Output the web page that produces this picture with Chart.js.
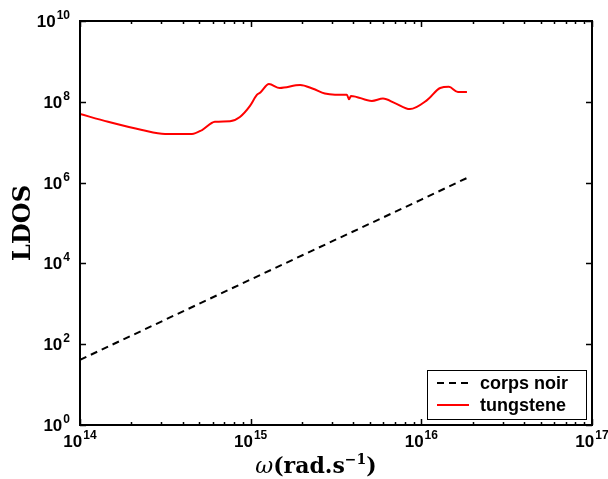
<!DOCTYPE html>
<html>
<head>
<meta charset="utf-8">
<script src="https://cdn.jsdelivr.net/npm/chart.js@4/dist/chart.umd.min.js"></script>
<style>
  html, body { margin: 0; padding: 0; background: #fff; overflow: hidden; }
  #box { width: 608px; height: 479px; }
</style>
</head>
<body>
<div id="box"><canvas id="grafico"></canvas></div>
<script>
// Données
const omegaTungstene = [1.0e14, 1.46e14, 2.31e14, 3.15e14, 4.53e14, 5.19e14, 6.17e14, 7.57e14, 8.65e14, 9.91e14,
    1.09e15, 1.14e15, 1.28e15, 1.48e15, 1.95e15, 2.32e15, 2.72e15, 3.12e15, 3.66e15, 3.77e15, 3.87e15,
    5.13e15, 5.96e15, 7.0e15, 8.57e15, 1.08e16, 1.29e16, 1.45e16, 1.64e16, 1.85e16];
const ldosTungstene = [5.0e7, 3.2e7, 2.0e7, 1.6e7, 1.6e7, 2.0e7, 3.2e7, 3.3e7, 4.2e7, 7.9e7,
    1.5e8, 1.7e8, 2.75e8, 2.2e8, 2.6e8, 2.1e8, 1.6e8, 1.5e8, 1.5e8, 1.15e8, 1.4e8,
    1.05e8, 1.2e8, 9.3e7, 6.6e7, 1.1e8, 2.2e8, 2.35e8, 1.75e8, 1.75e8];

const omegaCorpsNoir = [1.0e14, 1.0e15, 1.0e16, 1.85e16];
const ldosCorpsNoir = [41, 4.0e3, 3.8e5, 1.3e6];

// Exposants des étiquettes de graduation (10^n)
const xTickExp = [14, 15, 16, 17];
const yTickExp = [0, 2, 4, 6, 8, 10];

const policeTicks = '"Liberation Sans", Arial, sans-serif';
const policeTitre = '"DejaVu Serif", serif';

function points(xs, ys) {
    return xs.map((x, i) => ({ x: x, y: ys[i] }));
}

// écrit "10" avec l'exposant en haut ; renvoie la largeur
function largeurPuissance(ctx, exp) {
    ctx.font = 'bold 17px ' + policeTicks;
    const a = ctx.measureText('10').width;
    ctx.font = 'bold 12px ' + policeTicks;
    return a + 1 + ctx.measureText(String(exp)).width;
}
function ecrirePuissance(ctx, exp, x, base) {
    ctx.textAlign = 'left';
    ctx.textBaseline = 'alphabetic';
    ctx.font = 'bold 17px ' + policeTicks;
    ctx.fillText('10', x, base);
    const a = ctx.measureText('10').width;
    ctx.font = 'bold 12px ' + policeTicks;
    ctx.fillText(String(exp), x + a + 1, base - 8);
}

// Cadre, graduations vers l'intérieur et étiquettes (style MATLAB)
const cadre = {
    id: 'cadre',
    afterDatasetsDraw(chart) {
        const { ctx, chartArea: a, scales } = chart;
        ctx.save();
        ctx.strokeStyle = '#000';
        ctx.lineWidth = 1.5;
        ctx.beginPath();
        // x : graduations majeures et mineures
        for (let e = xTickExp[0]; e <= xTickExp[xTickExp.length - 1]; e++) {
            for (let m = 1; m <= 9; m++) {
                const v = m * Math.pow(10, e);
                if (v > scales.x.max * 1.0001) break;
                const px = Math.round(scales.x.getPixelForValue(v)) + 0.5;
                const len = m === 1 ? 6 : 3;
                ctx.moveTo(px, a.bottom); ctx.lineTo(px, a.bottom - len);
                ctx.moveTo(px, a.top); ctx.lineTo(px, a.top + len);
            }
        }
        // y : graduations majeures
        scales.y.ticks.forEach(t => {
            const py = Math.round(scales.y.getPixelForValue(t.value)) + 0.5;
            ctx.moveTo(a.left, py); ctx.lineTo(a.left + 6, py);
            ctx.moveTo(a.right, py); ctx.lineTo(a.right - 6, py);
        });
        ctx.stroke();
        ctx.lineWidth = 2;
        ctx.strokeRect(a.left, a.top, a.right - a.left, a.bottom - a.top);

        // étiquettes
        ctx.fillStyle = '#000';
        scales.x.ticks.forEach((t, i) => {
            const px = scales.x.getPixelForValue(t.value);
            const w = largeurPuissance(ctx, xTickExp[i]);
            ecrirePuissance(ctx, xTickExp[i], px - w / 2, a.bottom + 22);
        });
        scales.y.ticks.forEach((t, i) => {
            const py = scales.y.getPixelForValue(t.value);
            const w = largeurPuissance(ctx, yTickExp[i]);
            ecrirePuissance(ctx, yTickExp[i], a.left - 10 - w, py + 6);
        });

        // titre de l'axe x : ω(rad.s⁻¹)
        const morceaux = [
            { t: 'ω', f: 'italic 22px ' + policeTitre, dy: 0 },
            { t: '(rad.s', f: 'bold 22px ' + policeTitre, dy: 0 },
            { t: '−1', f: 'bold 14px ' + policeTitre, dy: -9 },
            { t: ')', f: 'bold 22px ' + policeTitre, dy: 0 }
        ];
        let total = 0;
        morceaux.forEach(m => { ctx.font = m.f; m.w = ctx.measureText(m.t).width; total += m.w; });
        let x = 316 - total / 2;
        ctx.textBaseline = 'alphabetic';
        ctx.textAlign = 'left';
        morceaux.forEach(m => {
            ctx.font = m.f;
            ctx.fillText(m.t, x, a.bottom + 48 + m.dy);
            x += m.w;
        });
        ctx.restore();
    }
};

// Légende dans le coin inférieur droit
const legende = {
    id: 'legende',
    afterDraw(chart) {
        const { ctx, chartArea: a } = chart;
        const w = 159, h = 49;
        const x0 = a.right - 6 - w, y0 = a.bottom - 6 - h;
        ctx.save();
        ctx.fillStyle = '#fff';
        ctx.fillRect(x0, y0, w, h);
        ctx.strokeStyle = '#000';
        ctx.lineWidth = 1;
        ctx.strokeRect(x0 + 0.5, y0 + 0.5, w, h);
        ctx.font = 'bold 18px ' + policeTicks;
        ctx.textBaseline = 'middle';
        chart.data.datasets.forEach((ds, i) => {
            const yy = y0 + 13 + i * 22;
            ctx.beginPath();
            ctx.strokeStyle = ds.borderColor;
            ctx.lineWidth = 2;
            ctx.setLineDash(ds.borderDash || []);
            ctx.moveTo(x0 + 10, yy);
            ctx.lineTo(x0 + 42, yy);
            ctx.stroke();
            ctx.setLineDash([]);
            ctx.fillStyle = '#000';
            ctx.fillText(ds.label, x0 + 53, yy + 1);
        });
        ctx.restore();
    }
};

const ctx = document.getElementById('grafico').getContext('2d');
const grafico = new Chart(ctx, {
    type: 'line',
    data: {
        datasets: [
            {
                label: 'corps noir',
                data: points(omegaCorpsNoir, ldosCorpsNoir),
                borderColor: '#000000',
                borderWidth: 2,
                borderDash: [7, 5],
                pointRadius: 0,
                tension: 0
            },
            {
                label: 'tungstene',
                data: points(omegaTungstene, ldosTungstene),
                borderColor: '#ff0000',
                borderWidth: 2,
                pointRadius: 0,
                cubicInterpolationMode: 'monotone'
            }
        ]
    },
    options: {
        responsive: true,
        maintainAspectRatio: false,
        animation: false,
        layout: { padding: { top: 21, right: 16, left: 0, bottom: 0 } },
        plugins: {
            legend: { display: false },
            tooltip: { enabled: false }
        },
        scales: {
            x: {
                type: 'logarithmic',
                min: 1e14,
                max: 1e17,
                afterBuildTicks: s => { s.ticks = xTickExp.map(e => ({ value: Math.pow(10, e) })); },
                afterFit: s => { s.height = 54; },
                grid: { display: false },
                border: { display: false },
                ticks: { display: false }
            },
            y: {
                type: 'logarithmic',
                min: 1,
                max: 1e10,
                afterBuildTicks: s => { s.ticks = yTickExp.map(e => ({ value: Math.pow(10, e) })); },
                afterFit: s => { s.width = 80; },
                grid: { display: false },
                border: { display: false },
                ticks: { display: false },
                title: {
                    display: true,
                    text: 'LDOS',
                    color: '#000',
                    padding: { top: 9, bottom: 0 },
                    font: { family: policeTitre, size: 24, weight: 'bold' }
                }
            }
        }
    },
    plugins: [cadre, legende]
});
</script>
</body>
</html>
